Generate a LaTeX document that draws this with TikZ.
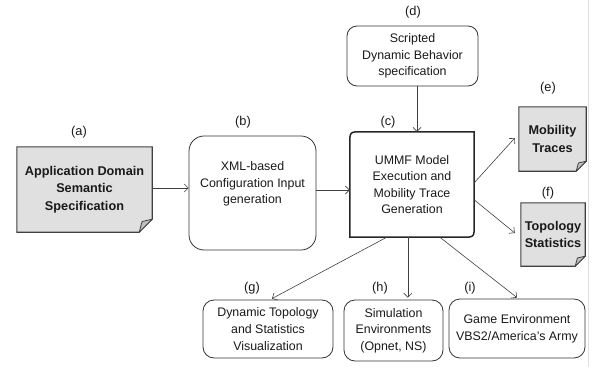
\documentclass[tikz,border=0pt]{standalone}
\usepackage{fontspec}
\setmainfont{Liberation Sans}
\usetikzlibrary{calc,arrows.meta,backgrounds}
\newcommand\docshape[2]{%
  \begin{scope}[on background layer]
    \draw[docfill] (#1.north west) -- (#1.north east) -- ($(#1.south east)+(0,-#2)$) -- ($(#1.south east)+(-#2,0)$) -- (#1.south west) -- cycle;
    \draw[flap] ($(#1.south east)+(0,-#2)$) .. controls ($(#1.south east)+(-0.45*#2,-0.95*#2)$) .. ($(#1.south east)+(-0.78*#2,-0.82*#2)$) -- ($(#1.south east)+(-#2,0)$) -- cycle;
  \end{scope}}
\begin{document}
\begin{tikzpicture}[x=1pt,y=-1pt,
  txt/.style={font=\fontsize{12.4}{16.6}\selectfont, align=center, inner sep=0pt, text=black!90},
  btxt/.style={font=\fontsize{12.7}{17.6}\selectfont\bfseries, align=center, inner sep=0pt, text=black!90},
  lbl/.style={font=\fontsize{12.8}{15}\selectfont, inner sep=0pt, text=black!90},
  rbox/.style={draw=black!80, line width=0.8pt, rounded corners=#1, inner sep=0pt},
  docnode/.style={inner sep=0pt},
  docfill/.style={fill=black!12, draw=black!75, line width=1.1pt},
  flap/.style={fill=black!25, draw=black!75, line width=0.8pt, line join=round},
  conn/.style={draw=black!75, line width=0.6pt, -{Straight Barb[length=4pt,width=8pt]}},
]
\useasboundingbox (0,0) rectangle (595,367);
\draw[black!12, line width=1pt] (588.5,0) -- (588.5,367);

% document-shaped nodes
\node[docnode, btxt, minimum width=135pt, minimum height=85pt] (a) at (84.5,189.5) {Application Domain\\Semantic\\Specification};
\docshape{a}{13}
\node[docnode, btxt, minimum width=67pt, minimum height=64pt] (e) at (552.5,139) {Mobility\\Traces};
\docshape{e}{10}
\node[docnode, btxt, minimum width=64pt, minimum height=63pt] (f) at (553,234.5) {Topology\\Statistics};
\docshape{f}{10}

% rounded boxes
\node[rbox=15, minimum width=127pt, minimum height=114pt] (b) at (252.5,193) {};
\node[txt] (bt) at (252.5,184) {XML-based\\Configuration Input\\generation};
\node[rbox=10, txt, minimum width=131pt, minimum height=60pt] (d) at (412.5,56) {Scripted\\Dynamic Behavior\\specification};
\node[rbox=11, txt, minimum width=130pt, minimum height=58pt] (g) at (268,329) {Dynamic Topology\\and Statistics\\Visualization};
\node[rbox=11, txt, minimum width=99pt, minimum height=61pt] (h) at (393.5,330.5) {Simulation\\Environments\\(Opnet, NS)};
\node[rbox=11, txt, minimum width=136pt, minimum height=59pt] (i) at (517,328.5) {Game Environment\\VBS2/America's Army};

% central box
\node[txt, minimum width=124pt, minimum height=105pt] (c) at (412,184.5) {UMMF Model\\Execution and\\Mobility Trace\\Generation};
\draw[line width=1.5pt, black!85] ($(c.north west)+(12,0)$) -- (c.north east) -- ($(c.south east)+(0,-12)$) .. controls (c.south east) .. ($(c.south east)+(-12,0)$) -- (c.south west) -- ($(c.north west)+(0,12)$) .. controls (c.north west) .. ($(c.north west)+(12,0)$) -- cycle;

% labels
\node[lbl] (la) at (79,132) {(a)};
\node[lbl] (lb) at (243,122) {(b)};
\node[lbl] (lc) at (388,122) {(c)};
\node[lbl] (ld) at (413,12) {(d)};
\node[lbl] (le) at (548,88) {(e)};
\node[lbl] (lf) at (548,193) {(f)};
\node[lbl] (lg) at (252,288) {(g)};
\node[lbl] (lh) at (380,288) {(h)};
\node[lbl] (li) at (470,288) {(i)};

% connectors
\coordinate (ab) at ($(a.east)+(0,-1.5)$);
\draw[conn] (ab) -- (ab -| b.west);
\coordinate (bc) at ($(b.east)+(0,-3)$);
\draw[conn] (bc) -- (bc -| c.west);
\coordinate (dc) at ($(d.south)+(4.5,0)$);
\draw[conn] (dc) -- (dc |- c.north);
\draw[conn] ($(c.north east)+(0,51)$) -- ($(e.west)+(-4,-1)$);
\draw[conn] ($(c.north east)+(0,68)$) -- ($(f.west)+(-6,-1.5)$);
\draw[conn] ($(c.south west)+(37,0)$) -- ($(g.north)+(4,-1)$);
\coordinate (ch) at ($(c.south west)+(58,0)$);
\draw[conn] (ch) -- ($(ch |- h.north)+(0,-2)$);
\draw[conn] ($(c.south west)+(90,0)$) -- ($(i.north)+(0,-1)$);
\end{tikzpicture}
\end{document}
